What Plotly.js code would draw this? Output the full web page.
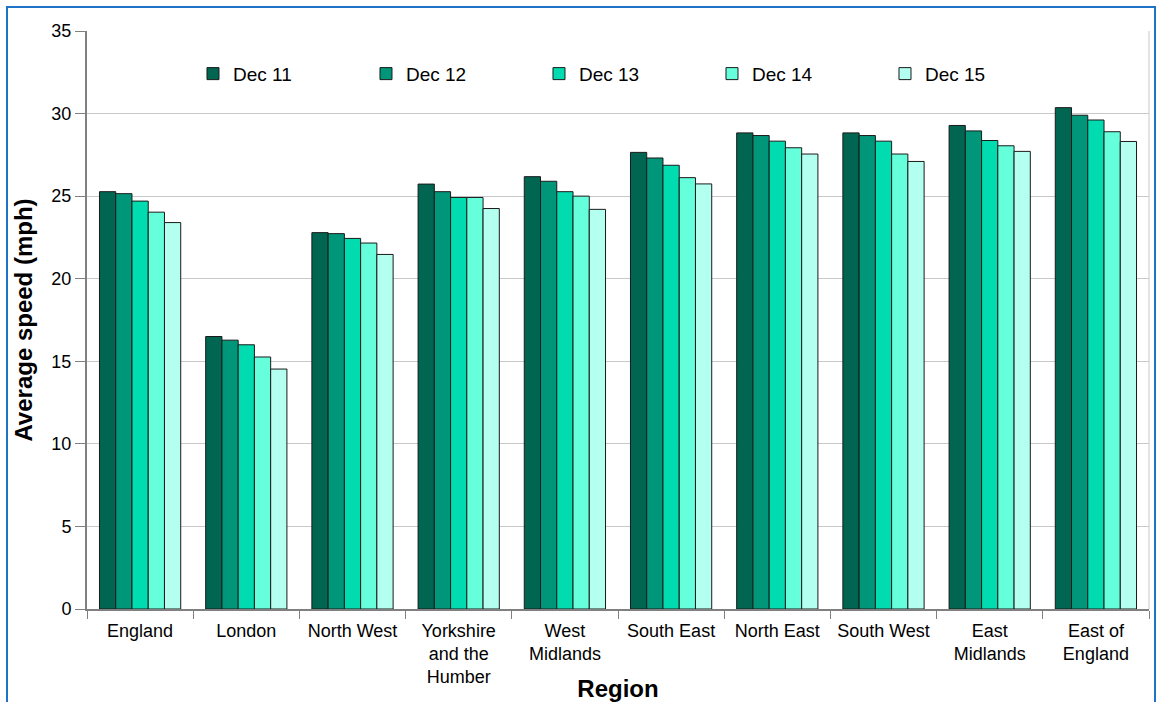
<!DOCTYPE html>
<html>
<head>
<meta charset="utf-8">
<script src="https://cdn.plot.ly/plotly-3.0.1.min.js"></script>
<style>
  html, body { margin: 0; padding: 0; background: #fff; }
  #chart { width: 1157px; height: 702px; }
  #frame { position: absolute; left: 6px; top: 6px; width: 1146px; height: 720px;
           border: 2px solid #1e73c8; pointer-events: none; }
</style>
</head>
<body>
<div id="chart"></div>
<div id="frame"></div>
<script>
const regions = ["England", "London", "North West", "Yorkshire<br>and the<br>Humber", "West<br>Midlands",
                 "South East", "North East", "South West", "East<br>Midlands", "East of<br>England"];
const seriesNames = ["Dec 11", "Dec 12", "Dec 13", "Dec 14", "Dec 15"];
const dec11 = [25.27, 16.50, 22.79, 25.73, 26.18, 27.65, 28.83, 28.83, 29.28, 30.36];
const dec12 = [25.15, 16.28, 22.73, 25.27, 25.90, 27.31, 28.67, 28.67, 28.95, 29.90];
const dec13 = [24.70, 16.00, 22.44, 24.92, 25.27, 26.87, 28.33, 28.33, 28.37, 29.61];
const dec14 = [24.03, 15.26, 22.16, 24.92, 25.00, 26.12, 27.93, 27.55, 28.05, 28.90];
const dec15 = [23.40, 14.53, 21.47, 24.25, 24.20, 25.74, 27.55, 27.10, 27.71, 28.31];
const seriesValues = [dec11, dec12, dec13, dec14, dec15];
const colors = ["#006651", "#00967a", "#00dcb0", "#66ffdc", "#b3fff0"];

const traces = seriesNames.map((name, i) => ({
  type: "bar",
  name: name,
  x: regions,
  y: seriesValues[i],
  marker: { color: colors[i], line: { color: "#1a1a1a", width: 1 } },
  hoverinfo: "x+y+name"
}));

const font = "Liberation Sans, Arial, sans-serif";
const layout = {
  width: 1157, height: 702,
  margin: { l: 87, r: 8, t: 31, b: 93 },
  paper_bgcolor: "#ffffff",
  plot_bgcolor: "#ffffff",
  font: { family: font, size: 18, color: "#000" },
  barmode: "group",
  bargap: 0.235,
  bargroupgap: 0,
  showlegend: true,
  legend: {
    orientation: "h",
    x: 0.0998, y: 0.926, xanchor: "left", yanchor: "middle",
    entrywidth: 128, entrywidthmode: "pixels",
    font: { family: font, size: 19, color: "#000" },
    bgcolor: "rgba(0,0,0,0)",
    itemclick: false, itemdoubleclick: false
  },
  xaxis: {
    type: "category",
    showline: true, linecolor: "#808080", linewidth: 2,
    ticks: "outside", tickson: "boundaries", ticklen: 8, tickcolor: "#808080", tickwidth: 1,
    ticklabelstandoff: 4,
    showgrid: false,
    tickfont: { family: font, size: 18, color: "#000" },
    title: { text: "<b>Region</b>", font: { family: font, size: 24, color: "#000" }, standoff: 0 },
    mirror: false
  },
  yaxis: {
    range: [0, 35],
    dtick: 5, tick0: 0,
    showline: true, linecolor: "#808080", linewidth: 2,
    ticks: "outside", ticklen: 10, tickcolor: "#808080", tickwidth: 1,
    showgrid: true, gridcolor: "#c8c8c8", gridwidth: 1,
    zeroline: false,
    tickfont: { family: font, size: 18, color: "#000" },
    title: { text: "<b>Average speed (mph)</b>", font: { family: font, size: 24, color: "#000" }, standoff: 12 }
  },
  shapes: [
    { type: "line", xref: "paper", yref: "paper", x0: 1, x1: 1, y0: 0, y1: 1,
      line: { color: "#c8c8c8", width: 1 } }
  ]
};

Plotly.newPlot("chart", traces, layout, { displayModeBar: false, staticPlot: false });
</script>
</body>
</html>
